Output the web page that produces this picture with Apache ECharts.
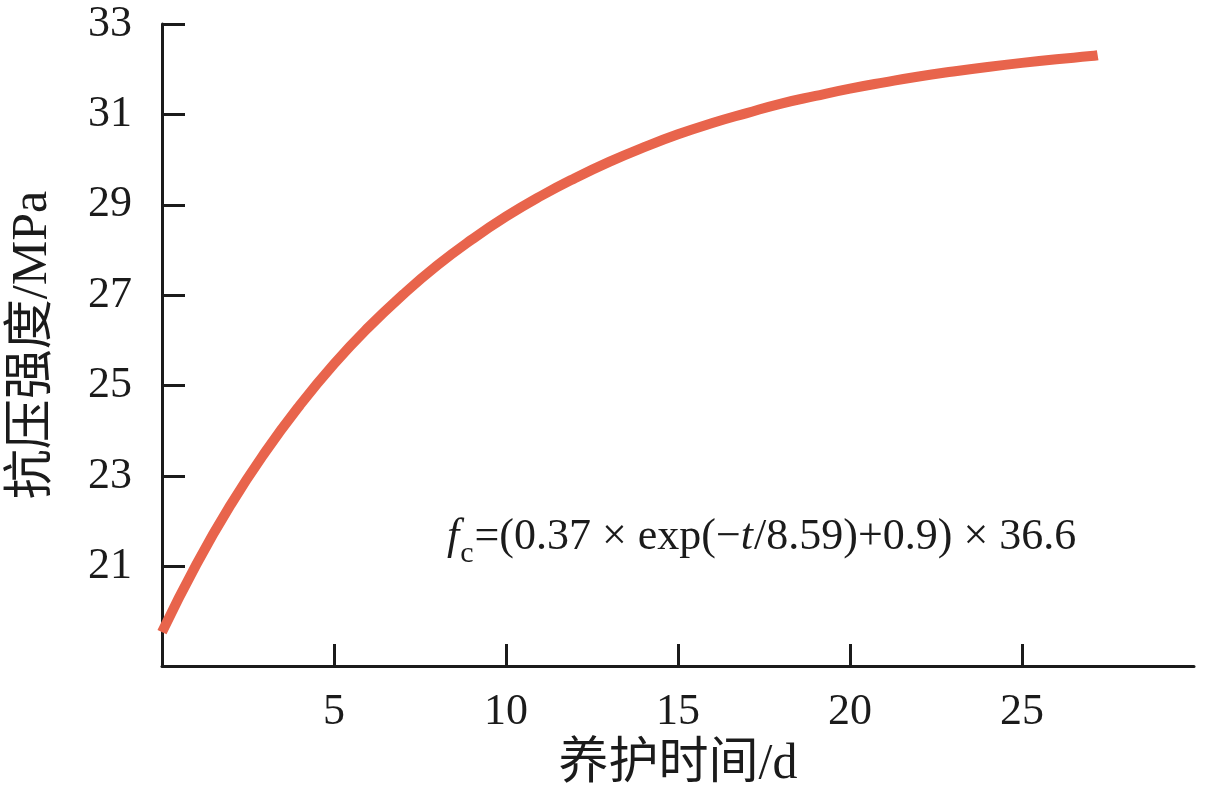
<!DOCTYPE html>
<html>
<head>
<meta charset="utf-8">
<script src="https://cdn.jsdelivr.net/npm/echarts@6/dist/echarts.min.js"></script>
<style>
  html, body { margin: 0; padding: 0; background: #ffffff; }
  #chart { width: 1210px; height: 804px; }
</style>
</head>
<body>
<div id="chart"></div>
<script>
// ---- data ----
const tDays = [0, 1, 2, 3, 4, 5, 6, 7, 8, 9, 10, 11, 12, 13, 14, 15, 16, 17, 18, 19, 20, 21, 22, 23, 24, 25, 26, 27, 27.2];
const strength = [19.55, 21.05, 22.37, 23.53, 24.56, 25.48, 26.29, 27.01, 27.66, 28.23, 28.74, 29.19, 29.59, 29.95, 30.27, 30.56, 30.81, 31.03, 31.24, 31.41, 31.57, 31.71, 31.84, 31.95, 32.05, 32.14, 32.22, 32.29, 32.31];
const xTickValues = [5, 10, 15, 20, 25];
const yTickValues = [21, 23, 25, 27, 29, 31, 33];
const xAxisName = '养护时间/d';
const yAxisName = '抗压强度/MPa';

const SERIF = '"Liberation Serif", "Times New Roman", "Noto Sans CJK SC", serif';
const INK = '#1b1b1b';
const CURVE = '#E8644C';

const chart = echarts.init(document.getElementById('chart'), null, { renderer: 'canvas' });

// equation annotation pieces, placed by measured text widths
function measure(txt, font) {
  const c = document.createElement('canvas').getContext('2d');
  c.font = font;
  return c.measureText(txt).width;
}
const eqFontMain = '44px "Liberation Serif"';
const eqFontItal = 'italic 44px "Liberation Serif"';
const eqFontSub = '30px "Liberation Serif"';
const eqX0 = 447, eqY = 537;
const partA = '=(0.37 × exp(−';
const partB = 't';
const partC = '/8.59)+0.9) × 36.6';
const wF = measure('f', eqFontItal);
const wSub = measure('c', eqFontSub);
const xSub = eqX0 + wF + 1;
const xA = xSub + wSub + 1;
const xB = xA + measure(partA, eqFontMain);
const xC = xB + measure(partB, eqFontItal) + 1;

const option = {
  backgroundColor: '#ffffff',
  animation: false,
  grid: { left: 160, top: 24, width: 1034, height: 642, containLabel: false },
  xAxis: {
    type: 'value',
    min: 0,
    max: 30,
    name: xAxisName,
    nameLocation: 'middle',
    nameGap: 74,
    nameTextStyle: { fontFamily: SERIF, fontSize: 50, color: INK },
    axisLine: { show: true, onZero: false, lineStyle: { color: INK, width: 3 } },
    axisTick: { show: true, inside: true, length: 22, customValues: xTickValues, lineStyle: { color: INK, width: 3 } },
    axisLabel: { show: true, customValues: xTickValues, margin: 24, fontFamily: SERIF, fontSize: 44, color: INK },
    splitLine: { show: false }
  },
  yAxis: {
    type: 'value',
    min: 18.8,
    max: 33,
    name: yAxisName,
    nameLocation: 'middle',
    nameRotate: 90,
    nameGap: 104,
    nameTextStyle: { fontFamily: SERIF, fontSize: 50, color: INK },
    axisLine: { show: true, onZero: false, lineStyle: { color: INK, width: 3 } },
    axisTick: { show: true, inside: true, length: 23, customValues: yTickValues, lineStyle: { color: INK, width: 3 } },
    axisLabel: { show: true, customValues: yTickValues, margin: 30, fontFamily: SERIF, fontSize: 44, color: INK },
    splitLine: { show: false }
  },
  series: [{
    type: 'line',
    data: tDays.map((t, i) => [t, strength[i]]),
    smooth: true,
    showSymbol: false,
    symbol: 'none',
    lineStyle: { color: CURVE, width: 10, cap: 'butt' },
    z: 3
  }],
  graphic: [
    { type: 'text', x: eqX0, y: eqY, style: { text: 'f', font: eqFontItal, fill: INK, textVerticalAlign: 'middle' } },
    { type: 'text', x: xSub, y: eqY + 17, style: { text: 'c', font: eqFontSub, fill: INK, textVerticalAlign: 'middle' } },
    { type: 'text', x: xA, y: eqY, style: { text: partA, font: eqFontMain, fill: INK, textVerticalAlign: 'middle' } },
    { type: 'text', x: xB, y: eqY, style: { text: partB, font: eqFontItal, fill: INK, textVerticalAlign: 'middle' } },
    { type: 'text', x: xC, y: eqY, style: { text: partC, font: eqFontMain, fill: INK, textVerticalAlign: 'middle' } }
  ]
};
chart.setOption(option);
</script>
</body>
</html>
